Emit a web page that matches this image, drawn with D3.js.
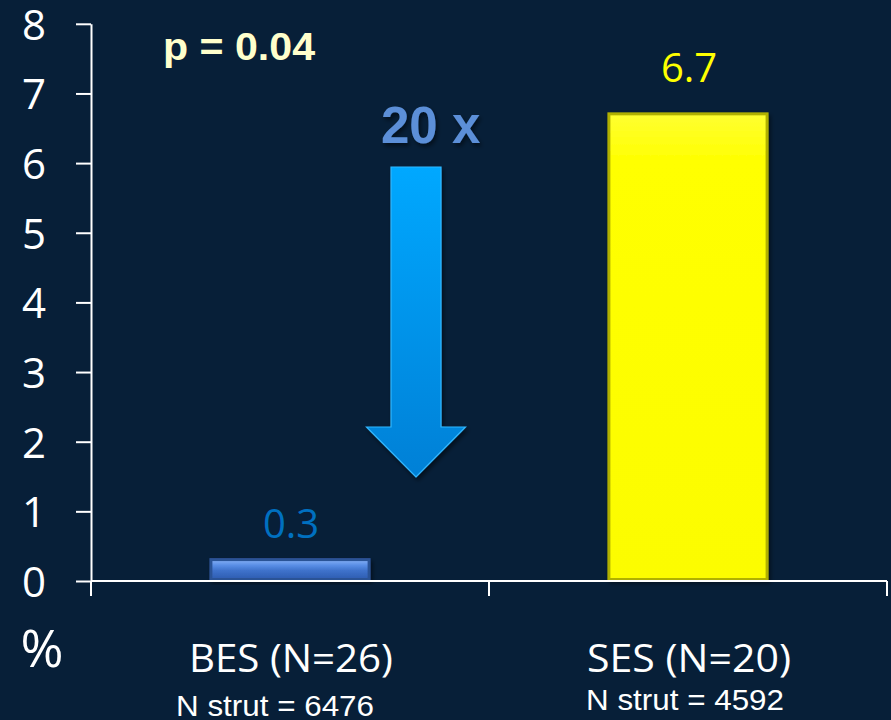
<!DOCTYPE html>
<html><head><meta charset="utf-8">
<script src="https://cdn.jsdelivr.net/npm/d3@7"></script>
<style>html,body{margin:0;padding:0;background:#071f38;}svg{display:block;}</style>
</head><body>
<script>
const categories = ["BES (N=26)", "SES (N=20)"];
const subLabels = ["N strut = 6476", "N strut = 4592"];
const values = [0.3, 6.7];
const valueLabels = ["0.3", "6.7"];
const yTicks = [0,1,2,3,4,5,6,7,8];
const pText = "p = 0.04";
const foldText = "20 x";

const W = 891, H = 720;
const svg = d3.select("body").append("svg").attr("width", W).attr("height", H);
svg.append("rect").attr("width", W).attr("height", H).attr("fill", "#071f38");

const x0 = 91, x1 = 887, yTop = 23.8, yBot = 581;
const y = d3.scaleLinear().domain([0, 8]).range([yBot, yTop]);
const x = d3.scaleBand().domain(categories).range([x0, x1]).paddingInner(0.595).paddingOuter(0.2975);

const defs = svg.append("defs");
function grad(id, stops) {
  const g = defs.append("linearGradient").attr("id", id).attr("x1", 0).attr("y1", 0).attr("x2", 0).attr("y2", 1);
  stops.forEach(s => g.append("stop").attr("offset", s[0]).attr("stop-color", s[1]));
}
grad("gBES", [["0%", "#7aa8f2"], ["25%", "#5a8ee6"], ["55%", "#3f73cc"], ["100%", "#2f5fb4"]]);
grad("gSES", [["0%", "#ffff30"], ["10%", "#ffff00"], ["100%", "#fcfc00"]]);
grad("gArrow", [["0%", "#00a8ff"], ["100%", "#0080d6"]]);
const sh = defs.append("filter").attr("id", "shadow").attr("x", "-20%").attr("y", "-20%").attr("width", "140%").attr("height", "140%");
sh.append("feDropShadow").attr("dx", 2).attr("dy", 3).attr("stdDeviation", 2).attr("flood-color", "#000").attr("flood-opacity", 0.5);

// axes
const yAxis = d3.axisLeft(y).tickValues(yTicks).tickSize(15).tickPadding(30).tickSizeOuter(0);
const ya = svg.append("g").attr("transform", `translate(${x0},0)`).call(yAxis);
ya.select(".domain").attr("stroke", "#ffffff").attr("stroke-width", 2);
ya.selectAll(".tick line").attr("stroke", "#ffffff").attr("stroke-width", 2);
ya.selectAll(".tick text").attr("fill", "#ffffff").attr("font-family", "'Open Sans', sans-serif").attr("font-size", 42).attr("dy", "0.37em");
svg.append("line").attr("x1", x0).attr("x2", x0).attr("y1", yBot).attr("y2", yBot + 15).attr("stroke", "#fff").attr("stroke-width", 2);

// bars
const edgeCol = ["#2c5296", "#b0b000"];
const bars = svg.selectAll(".bar").data(values).enter().append("g").attr("filter", "url(#shadow)");
bars.append("rect")
  .attr("x", (d, i) => x(categories[i]))
  .attr("y", d => y(d) - 2)
  .attr("width", x.bandwidth())
  .attr("height", d => yBot - y(d) + 1)
  .attr("fill", (d, i) => edgeCol[i]);
bars.append("rect")
  .attr("x", (d, i) => x(categories[i]) + 3)
  .attr("y", d => y(d) + 1)
  .attr("width", x.bandwidth() - 6)
  .attr("height", d => yBot - y(d) - 4)
  .attr("fill", (d, i) => i === 0 ? "url(#gBES)" : "url(#gSES)");

// x axis line and boundary ticks
svg.append("line").attr("x1", x0).attr("x2", x1).attr("y1", yBot).attr("y2", yBot).attr("stroke", "#fff").attr("stroke-width", 2);
const bounds = [x0].concat(categories.map(c => x(c) + x.bandwidth() + x.step() * 0.2975));
svg.selectAll(".bt").data(bounds).enter().append("line")
  .attr("x1", d => d).attr("x2", d => d).attr("y1", yBot).attr("y2", yBot + 15)
  .attr("stroke", "#fff").attr("stroke-width", 2);

// value labels
const vColors = ["#0070c0", "#ffff00"];
const labelGap = [22, 32];
svg.selectAll(".vl").data(values).enter().append("text")
  .attr("x", (d, i) => x(categories[i]) + x.bandwidth() / 2 + 1)
  .attr("y", (d, i) => y(d) - labelGap[i])
  .attr("text-anchor", "middle")
  .attr("fill", (d, i) => vColors[i])
  .attr("font-family", "'Open Sans', sans-serif").attr("font-size", 40)
  .text((d, i) => valueLabels[i]);

// category labels
svg.selectAll(".cl").data(categories).enter().append("text")
  .attr("x", d => x(d) + x.bandwidth() / 2 + 1)
  .attr("y", 672)
  .attr("text-anchor", "middle").attr("fill", "#fff")
  .attr("font-family", "'Open Sans', sans-serif").attr("font-size", 38)
  .attr("textLength", 204).attr("lengthAdjust", "spacingAndGlyphs")
  .text(d => d);
const subY = [716, 710];
const subDx = [-15, -3];
svg.selectAll(".sl").data(subLabels).enter().append("text")
  .attr("x", (d, i) => x(categories[i]) + x.bandwidth() / 2 + subDx[i])
  .attr("y", (d, i) => subY[i])
  .attr("text-anchor", "middle").attr("fill", "#fff")
  .attr("font-family", "'Liberation Sans', Arial, sans-serif").attr("font-size", 29)
  .attr("textLength", 198).attr("lengthAdjust", "spacingAndGlyphs")
  .text(d => d);

// % label
svg.append("text").attr("x", 42).attr("y", 667).attr("text-anchor", "middle").attr("fill", "#fff")
  .attr("font-family", "'Open Sans', sans-serif").attr("font-size", 52).text("%");

// p value
svg.append("text").attr("x", 163).attr("y", 60).attr("fill", "#ffffcc")
  .attr("font-family", "'Liberation Sans', Arial, sans-serif").attr("font-weight", "bold").attr("font-size", 38)
  .attr("textLength", 152).attr("lengthAdjust", "spacingAndGlyphs")
  .text(pText);

// 20 x
svg.append("text").attr("x", 381).attr("y", 143).attr("fill", "#5b8fd8")
  .attr("font-family", "'Liberation Sans', Arial, sans-serif").attr("font-weight", "bold").attr("font-size", 51)
  .attr("filter", "url(#shadow)")
  .text(foldText);

// arrow
const arX = 416, arSW = 25, arTop = 167, arHeadTop = 427, arHeadW = 49.5, arTip = 477;
const arrowPts = [[arX - arSW, arTop], [arX + arSW, arTop], [arX + arSW, arHeadTop], [arX + arHeadW, arHeadTop], [arX, arTip], [arX - arHeadW, arHeadTop], [arX - arSW, arHeadTop]];
svg.append("path").attr("d", d3.line()(arrowPts) + "Z")
  .attr("fill", "url(#gArrow)").attr("stroke", "#33b8ff").attr("stroke-width", 1.2)
  .attr("filter", "url(#shadow)");
</script>
</body></html>
